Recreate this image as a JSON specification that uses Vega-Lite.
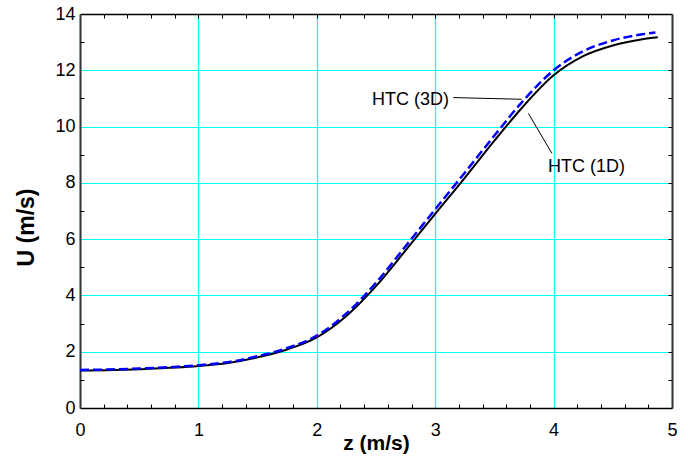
{
  "$schema": "https://vega.github.io/schema/vega-lite/v6.json",
  "width": 592,
  "height": 394,
  "autosize": "none",
  "padding": {"left": 80, "top": 14, "right": 16, "bottom": 55},
  "background": "white",
  "config": {
    "view": {"stroke": null},
    "axis": {"labelFont": "Liberation Sans", "titleFont": "Liberation Sans", "labelColor": "black", "titleColor": "black"}
  },
  "datasets": {
    "h1": [
      {"z": 0.0, "U": 1.33}, {"z": 0.5, "U": 1.38}, {"z": 1.0, "U": 1.49}, {"z": 1.25, "U": 1.6},
      {"z": 1.5, "U": 1.8}, {"z": 1.75, "U": 2.08}, {"z": 2.0, "U": 2.51}, {"z": 2.25, "U": 3.27},
      {"z": 2.5, "U": 4.33}, {"z": 2.75, "U": 5.6}, {"z": 3.0, "U": 6.9}, {"z": 3.25, "U": 8.18},
      {"z": 3.5, "U": 9.5}, {"z": 3.75, "U": 10.75}, {"z": 4.0, "U": 11.82}, {"z": 4.25, "U": 12.5},
      {"z": 4.5, "U": 12.88}, {"z": 4.75, "U": 13.1}, {"z": 4.88, "U": 13.17}
    ],
    "h3": [
      {"z": 0.0, "U": 1.35}, {"z": 0.5, "U": 1.4}, {"z": 1.0, "U": 1.52}, {"z": 1.25, "U": 1.63},
      {"z": 1.5, "U": 1.84}, {"z": 1.75, "U": 2.13}, {"z": 2.0, "U": 2.57}, {"z": 2.25, "U": 3.36},
      {"z": 2.5, "U": 4.45}, {"z": 2.75, "U": 5.75}, {"z": 3.0, "U": 7.06}, {"z": 3.25, "U": 8.36},
      {"z": 3.5, "U": 9.68}, {"z": 3.75, "U": 10.95}, {"z": 4.0, "U": 12.0}, {"z": 4.25, "U": 12.68},
      {"z": 4.5, "U": 13.06}, {"z": 4.75, "U": 13.28}, {"z": 4.86, "U": 13.34}
    ],
    "leaders": [
      {"z": 3.153, "U": 11.03, "z2": 3.73, "U2": 10.97},
      {"z": 3.787, "U": 10.47, "z2": 3.985, "U2": 9.05}
    ],
    "labels": [
      {"z": 2.791, "U": 10.95, "label": "HTC (3D)"},
      {"z": 4.278, "U": 8.575, "label": "HTC (1D)"}
    ]
  },
  "layer": [
    {
      "data": {"name": "h1"},
      "mark": {"type": "line", "color": "black", "strokeWidth": 2, "interpolate": "monotone"},
      "encoding": {
        "x": {"field": "z", "type": "quantitative", "scale": {"domain": [0, 5], "nice": false, "zero": false},
          "axis": {"orient": "bottom", "values": [0, 1, 2, 3, 4, 5], "title": "z (m/s)", "titleFontSize": 21, "titleFontWeight": "bold",
            "titleBaseline": "alphabetic", "titleY": 41, "labelFontSize": 18, "labelPadding": 13, "ticks": false, "tickSize": 0,
            "grid": true, "gridColor": "#00ffff", "gridWidth": 1.2, "gridOpacity": 1, "domainColor": "black", "domainWidth": 1.5, "labelFlush": false}},
        "y": {"field": "U", "type": "quantitative", "scale": {"domain": [0, 14], "nice": false, "zero": false},
          "axis": {"orient": "left", "values": [0, 2, 4, 6, 8, 10, 12, 14], "title": "U (m/s)", "titleFontSize": 23, "titleFontWeight": "bold",
            "titleBaseline": "alphabetic", "titleX": -47, "titleY": 213, "titleAngle": -90, "labelFontSize": 18, "labelPadding": 5, "ticks": false, "tickSize": 0,
            "grid": true, "gridColor": "#00ffff", "gridWidth": 1.2, "gridOpacity": 1, "domainColor": "#333333", "domainWidth": 2, "labelFlush": false}}
      }
    },
    {
      "data": {"name": "h3"},
      "mark": {"type": "line", "color": "#0000ff", "strokeWidth": 2.5, "strokeDash": [9, 4], "interpolate": "monotone"},
      "encoding": {
        "x": {"field": "z", "type": "quantitative",
          "axis": {"orient": "top", "values": [0.2, 0.4, 0.6, 0.8, 1, 1.2, 1.4, 1.6, 1.8, 2, 2.2, 2.4, 2.6, 2.8, 3, 3.2, 3.4, 3.6, 3.8, 4, 4.2, 4.4, 4.6, 4.8],
            "title": null, "labels": false, "grid": false, "tickSize": -4, "tickColor": "black", "tickWidth": 1, "domainColor": "black", "domainWidth": 1.5}},
        "y": {"field": "U", "type": "quantitative",
          "axis": {"orient": "right", "values": [1, 2, 3, 4, 5, 6, 7, 8, 9, 10, 11, 12, 13],
            "title": null, "labels": false, "grid": false, "tickSize": -4, "tickColor": "black", "tickWidth": 1, "domainColor": "#333333", "domainWidth": 2}}
      }
    },
    {
      "data": {"name": "leaders"},
      "mark": {"type": "rule", "color": "black", "strokeWidth": 1},
      "encoding": {
        "x": {"field": "z", "type": "quantitative",
          "axis": {"orient": "bottom", "values": [0.2, 0.4, 0.6, 0.8, 1.2, 1.4, 1.6, 1.8, 2.2, 2.4, 2.6, 2.8, 3.2, 3.4, 3.6, 3.8, 4.2, 4.4, 4.6, 4.8],
            "title": null, "labels": false, "grid": false, "domain": false, "tickSize": -4, "tickColor": "black", "tickWidth": 1}},
        "y": {"field": "U", "type": "quantitative",
          "axis": {"orient": "left", "values": [1, 3, 5, 7, 9, 11, 13],
            "title": null, "labels": false, "grid": false, "domain": false, "tickSize": -4, "tickColor": "black", "tickWidth": 1}},
        "x2": {"field": "z2"},
        "y2": {"field": "U2"}
      }
    },
    {
      "data": {"name": "labels"},
      "mark": {"type": "text", "font": "Liberation Sans", "fontSize": 18, "color": "black", "align": "center", "baseline": "middle"},
      "encoding": {
        "x": {"field": "z", "type": "quantitative", "axis": null},
        "y": {"field": "U", "type": "quantitative", "axis": null},
        "text": {"field": "label"}
      }
    }
  ],
  "resolve": {"axis": {"x": "independent", "y": "independent"}}
}
